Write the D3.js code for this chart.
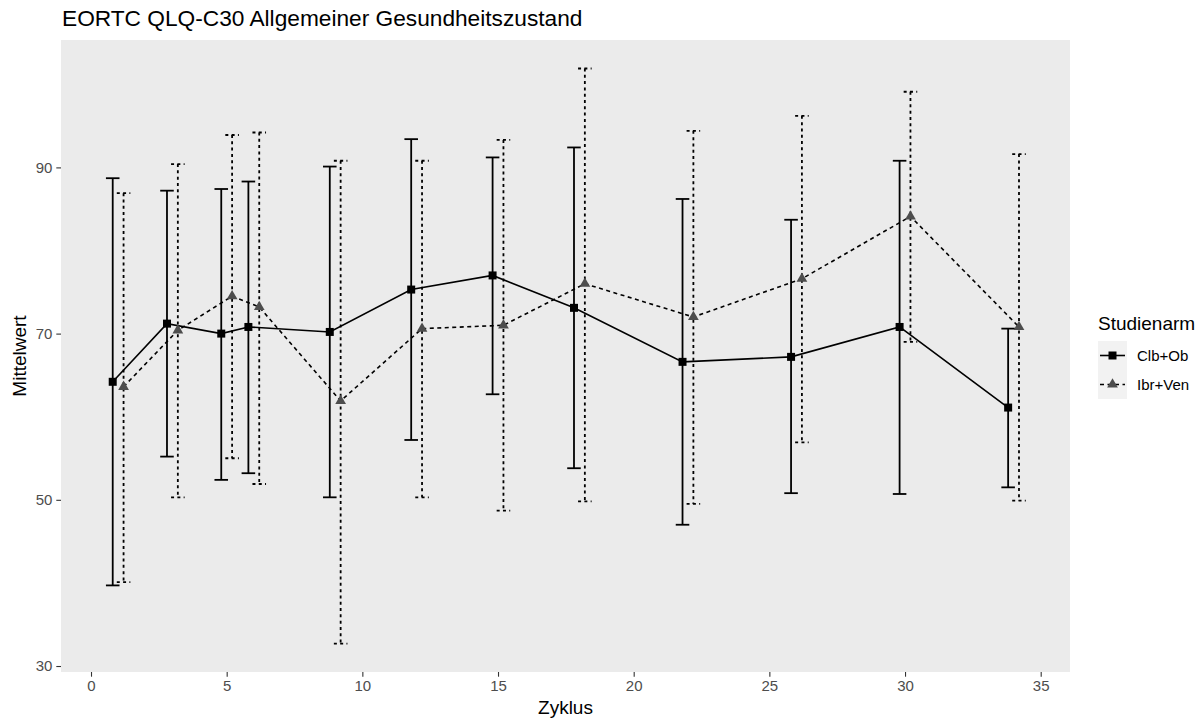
<!DOCTYPE html>
<html>
<head>
<meta charset="utf-8">
<script src="https://cdn.jsdelivr.net/npm/d3@7"></script>
<style>
  html, body { margin: 0; padding: 0; background: #ffffff; }
  svg { display: block; font-family: "Liberation Sans", Arial, sans-serif; }
</style>
</head>
<body>
<svg id="chart" width="1203" height="720"></svg>
<script>
// Treatment cycles (Zyklus)
const cycles = [1, 3, 5, 6, 9, 12, 15, 18, 22, 26, 30, 34];

// Clb+Ob: mean and error bar limits
const clbMean  = [64.2, 71.2, 70.0, 70.8, 70.2, 75.3, 77.0, 73.1, 66.6, 67.2, 70.8, 61.1];
const clbUpper = [88.7, 87.2, 87.4, 88.3, 90.1, 93.4, 91.2, 92.4, 86.2, 83.7, 90.8, 70.6];
const clbLower = [39.7, 55.2, 52.4, 53.2, 50.3, 57.2, 62.7, 53.8, 47.0, 50.8, 50.7, 51.5];

// Ibr+Ven: mean and error bar limits
const ibrMean  = [63.6, 70.4, 74.5, 73.2, 61.9, 70.6, 71.0, 76.0, 72.0, 76.6, 84.1, 70.8];
const ibrUpper = [86.9, 90.4, 93.9, 94.2, 90.8, 90.8, 93.3, 101.9, 94.4, 96.2, 99.1, 91.6];
const ibrLower = [40.1, 50.3, 55.0, 51.9, 32.7, 50.3, 48.7, 49.8, 49.5, 56.9, 69.0, 49.9];

const seriesNames = ["Clb+Ob", "Ibr+Ven"];
const xTicks = [0, 5, 10, 15, 20, 25, 30, 35];
const yTicks = [30, 50, 70, 90];

const titleText = "EORTC QLQ-C30 Allgemeiner Gesundheitszustand";
const xTitle = "Zyklus";
const yTitle = "Mittelwert";
const legendTitle = "Studienarm";

// dodge offset between the two arms, error bar cap width (x units)
const dodge = 0.2, capW = 0.5;

const svg = d3.select("#chart");
const panel = { left: 61, right: 1070, top: 40, bottom: 672 };

const x = d3.scaleLinear().domain([-1.106, 36.08]).range([panel.left, panel.right]);
const y = d3.scaleLinear().domain([29.28, 105.33]).range([panel.bottom, panel.top]);

// panel background
svg.append("rect")
  .attr("x", panel.left).attr("y", panel.top)
  .attr("width", panel.right - panel.left).attr("height", panel.bottom - panel.top)
  .attr("fill", "#EBEBEB");

// axes
const xAxis = svg.append("g")
  .attr("transform", `translate(0,${panel.bottom})`)
  .call(d3.axisBottom(x).tickValues(xTicks).tickSize(4.7).tickPadding(4));
const yAxis = svg.append("g")
  .attr("transform", `translate(${panel.left},0)`)
  .call(d3.axisLeft(y).tickValues(yTicks).tickSize(4.7).tickPadding(4));
[xAxis, yAxis].forEach(g => {
  g.select(".domain").remove();
  g.selectAll(".tick line").attr("stroke", "#333333").attr("stroke-width", 1.1);
  g.selectAll(".tick text").attr("fill", "#4D4D4D").attr("font-size", "15px")
    .attr("font-family", "Liberation Sans, Arial, sans-serif");
});

// titles
svg.append("text").attr("x", 62).attr("y", 26)
  .attr("font-size", "22.7px").attr("fill", "#000").text(titleText);
svg.append("text").attr("x", (panel.left + panel.right) / 2).attr("y", 714)
  .attr("text-anchor", "middle").attr("font-size", "19px").attr("fill", "#000").text(xTitle);
svg.append("text")
  .attr("transform", `translate(26,${(panel.top + panel.bottom) / 2}) rotate(-90)`)
  .attr("text-anchor", "middle").attr("font-size", "19px").attr("fill", "#000").text(yTitle);

// build per-arm records
const arms = [
  { name: seriesNames[0], off: -dodge, mean: clbMean, lo: clbLower, hi: clbUpper,
    dash: null, barDash: null, pointFill: "#000000", shape: d3.symbolSquare },
  { name: seriesNames[1], off: dodge, mean: ibrMean, lo: ibrLower, hi: ibrUpper,
    dash: "4,3.5", barDash: "3,3.3", pointFill: "#4D4D4D", shape: d3.symbolTriangle }
].map(a => ({
  ...a,
  rows: cycles.map((c, i) => ({ cx: c + a.off, m: a.mean[i], lo: a.lo[i], hi: a.hi[i] }))
}));

const lw = 1.8;

// error bars
arms.forEach(a => {
  const g = svg.append("g").attr("stroke", "#000").attr("stroke-width", lw)
    .attr("fill", "none").attr("stroke-dasharray", a.barDash);
  a.rows.forEach(r => {
    g.append("line").attr("x1", x(r.cx - capW / 2)).attr("x2", x(r.cx + capW / 2))
      .attr("y1", y(r.hi)).attr("y2", y(r.hi));
    g.append("line").attr("x1", x(r.cx)).attr("x2", x(r.cx))
      .attr("y1", y(r.hi)).attr("y2", y(r.lo));
    g.append("line").attr("x1", x(r.cx - capW / 2)).attr("x2", x(r.cx + capW / 2))
      .attr("y1", y(r.lo)).attr("y2", y(r.lo));
  });
});

// connecting lines
const line = d3.line().x(r => x(r.cx)).y(r => y(r.m));
arms.forEach(a => {
  svg.append("path").datum(a.rows).attr("d", line)
    .attr("fill", "none").attr("stroke", "#000").attr("stroke-width", 1.6)
    .attr("stroke-dasharray", a.dash);
});

// points
const sym = (shape) => d3.symbol().type(shape).size(shape === d3.symbolSquare ? 64 : 50)();
arms.forEach(a => {
  svg.append("g").selectAll("path").data(a.rows).join("path")
    .attr("transform", r => `translate(${x(r.cx)},${y(r.m)})`)
    .attr("d", sym(a.shape)).attr("fill", a.pointFill);
});

// legend
const lg = svg.append("g");
lg.append("text").attr("x", 1098).attr("y", 330).attr("font-size", "19px")
  .attr("fill", "#000").text(legendTitle);
arms.forEach((a, i) => {
  const ky = 341 + i * 29;
  lg.append("rect").attr("x", 1098).attr("y", ky).attr("width", 29).attr("height", 29)
    .attr("fill", "#F2F2F2");
  const cy = ky + 14.5;
  lg.append("line").attr("x1", 1100).attr("x2", 1125).attr("y1", cy).attr("y2", cy)
    .attr("stroke", "#000").attr("stroke-width", 1.6).attr("stroke-dasharray", a.dash);
  lg.append("path").attr("transform", `translate(1112.5,${cy})`)
    .attr("d", sym(a.shape)).attr("fill", a.pointFill);
  lg.append("text").attr("x", 1137).attr("y", cy + 5.3).attr("font-size", "15px")
    .attr("fill", "#000").text(a.name);
});
</script>
</body>
</html>
